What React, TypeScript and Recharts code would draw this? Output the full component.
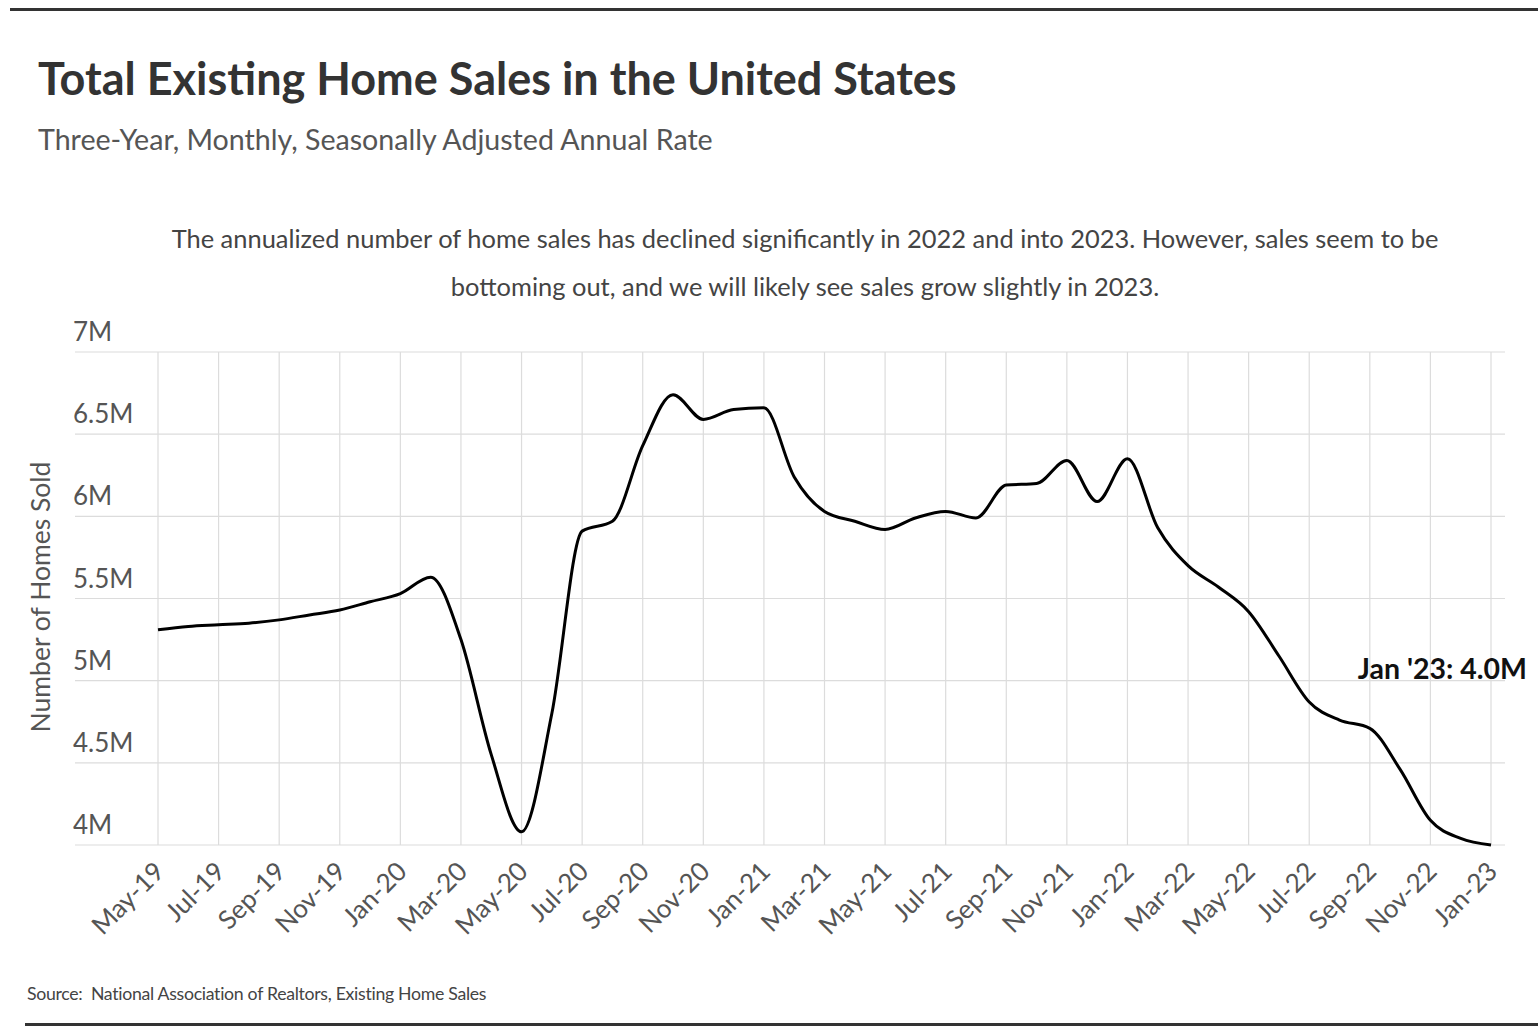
import { LineChart, Line, XAxis, YAxis, CartesianGrid } from 'recharts'

// monthly, seasonally adjusted annual rate, millions of homes
const MONTHS = [
  'May-19', 'Jun-19', 'Jul-19', 'Aug-19', 'Sep-19', 'Oct-19', 'Nov-19', 'Dec-19',
  'Jan-20', 'Feb-20', 'Mar-20', 'Apr-20', 'May-20', 'Jun-20', 'Jul-20', 'Aug-20', 'Sep-20', 'Oct-20', 'Nov-20', 'Dec-20',
  'Jan-21', 'Feb-21', 'Mar-21', 'Apr-21', 'May-21', 'Jun-21', 'Jul-21', 'Aug-21', 'Sep-21', 'Oct-21', 'Nov-21', 'Dec-21',
  'Jan-22', 'Feb-22', 'Mar-22', 'Apr-22', 'May-22', 'Jun-22', 'Jul-22', 'Aug-22', 'Sep-22', 'Oct-22', 'Nov-22', 'Dec-22',
  'Jan-23',
]

const SALES = [
  5.31, 5.33, 5.34, 5.35, 5.37, 5.4, 5.43, 5.48,
  5.53, 5.63, 5.25, 4.55, 4.08, 4.8, 5.91, 5.97, 6.43, 6.74, 6.59, 6.65,
  6.66, 6.24, 6.03, 5.97, 5.92, 5.99, 6.03, 5.99, 6.19, 6.2, 6.34, 6.09,
  6.35, 5.93, 5.7, 5.57, 5.42, 5.15, 4.87, 4.76, 4.71, 4.46, 4.15, 4.04,
  4.0,
]

const X_TICKS = [
  'May-19', 'Jul-19', 'Sep-19', 'Nov-19', 'Jan-20', 'Mar-20', 'May-20', 'Jul-20', 'Sep-20', 'Nov-20',
  'Jan-21', 'Mar-21', 'May-21', 'Jul-21', 'Sep-21', 'Nov-21', 'Jan-22', 'Mar-22', 'May-22', 'Jul-22',
  'Sep-22', 'Nov-22', 'Jan-23',
]

const Y_TICKS = [4, 4.5, 5, 5.5, 6, 6.5, 7]

const END_LABEL = "Jan '23"

const data = MONTHS.map((month, i) => ({ month, sales: SALES[i] }))

const FONT = 'Lato, "Open Sans", sans-serif'

function XTick({ x, y, payload }: any) {
  const ax = x + 8
  const ay = y + 28
  return (
    <text
      x={ax}
      y={ay}
      transform={`rotate(-45 ${ax} ${ay})`}
      textAnchor="end"
      fill="#555"
      fontSize={26}
      fontFamily={FONT}
    >
      {payload.value}
    </text>
  )
}

function YTick({ x, y, payload }: any) {
  return (
    <text x={x - 2} y={y - 11} textAnchor="start" fill="#555" fontSize={26} fontFamily={FONT}>
      {`${payload.value}M`}
    </text>
  )
}

function EndLabel({ x, y, index, value }: any) {
  if (index !== SALES.length - 1) return null
  return (
    <text
      x={x + 36}
      y={y - 166}
      textAnchor="end"
      fill="#111"
      fontSize={28.5}
      fontWeight={700}
      fontFamily={FONT}
    >
      {`${END_LABEL}: ${Number(value).toFixed(1)}M`}
    </text>
  )
}

export default function App() {
  return (
    <div
      style={{
        position: 'absolute',
        left: 0,
        top: 0,
        width: 1538,
        height: 1034,
        background: '#fff',
        fontFamily: FONT,
        overflow: 'hidden',
      }}
    >
      <div style={{ position: 'absolute', left: 10, right: 0, top: 8, height: 3, background: '#333' }} />
      <div style={{ position: 'absolute', left: 25, right: 0, top: 1023, height: 3, background: '#333' }} />

      <div
        style={{
          position: 'absolute',
          left: 38,
          top: 56,
          fontSize: 45,
          lineHeight: '45px',
          fontWeight: 700,
          color: '#333',
          whiteSpace: 'nowrap',
        }}
      >
        Total Existing Home Sales in the United States
      </div>
      <div
        style={{
          position: 'absolute',
          left: 38,
          top: 125,
          fontSize: 28.6,
          lineHeight: '28px',
          color: '#555',
          whiteSpace: 'nowrap',
        }}
      >
        Three-Year, Monthly, Seasonally Adjusted Annual Rate
      </div>
      <div
        style={{
          position: 'absolute',
          left: 105,
          width: 1400,
          top: 214,
          fontSize: 25.45,
          lineHeight: '48px',
          color: '#444',
          textAlign: 'center',
        }}
      >
        The annualized number of home sales has declined significantly in 2022 and into 2023. However, sales seem to be
        <br />
        bottoming out, and we will likely see sales grow slightly in 2023.
      </div>

      <div
        style={{
          position: 'absolute',
          left: 40,
          top: 597,
          fontSize: 26.5,
          lineHeight: '26px',
          color: '#555',
          whiteSpace: 'nowrap',
          transform: 'translate(-50%, -50%) rotate(-90deg)',
        }}
      >
        Number of Homes Sold
      </div>

      <div style={{ position: 'absolute', left: 0, top: 300 }}>
        <LineChart
          width={1538}
          height={680}
          data={data}
          margin={{ top: 52, right: 33, left: 0, bottom: 0 }}
        >
          <CartesianGrid stroke="#dcdcdc" strokeWidth={1.2} syncWithTicks />
          <XAxis
            dataKey="month"
            ticks={X_TICKS}
            interval={0}
            padding={{ left: 83, right: 14 }}
            axisLine={false}
            tickLine={false}
            tickSize={0}
            tickMargin={0}
            height={135}
            tick={<XTick />}
          />
          <YAxis
            domain={[4, 7]}
            ticks={Y_TICKS}
            interval={0}
            width={75}
            axisLine={false}
            tickLine={false}
            tickSize={0}
            tickMargin={0}
            tick={<YTick />}
          />
          <Line
            type="monotone"
            dataKey="sales"
            stroke="#000"
            strokeWidth={3}
            dot={false}
            isAnimationActive={false}
            label={<EndLabel />}
          />
        </LineChart>
      </div>

      <div
        style={{
          position: 'absolute',
          left: 27,
          top: 985,
          fontSize: 17.7,
          lineHeight: '17px',
          color: '#444',
          whiteSpace: 'nowrap',
          letterSpacing: -0.3,
        }}
      >
        Source:&nbsp; National Association of Realtors, Existing Home Sales
      </div>
    </div>
  )
}
